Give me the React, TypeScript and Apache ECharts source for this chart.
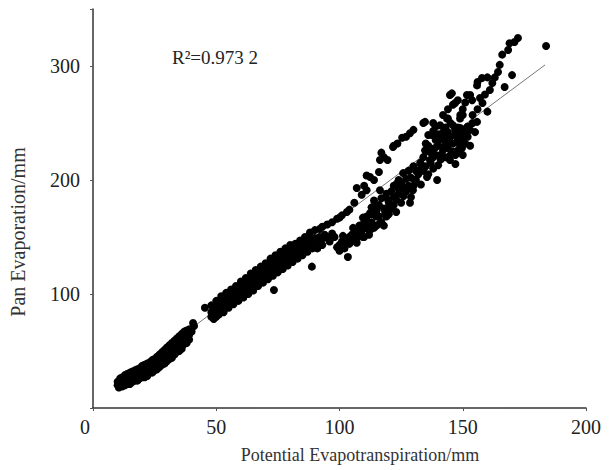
import React, { useEffect, useRef } from "react";
import * as echarts from "echarts";

// x: Potential Evapotranspiration (mm), y: Pan Evaporation (mm)
const lowerBand: number[][] = [
  [10, 20], [10, 23], [10.5, 22], [11, 21], [11, 24], [11.5, 23], [11.5, 20], [12, 22], [12, 25], [12.5, 24],
  [13, 23], [13, 26], [13.5, 25], [13.5, 22], [14, 24], [14, 27], [14.5, 26], [15, 25], [15, 28], [15, 23],
  [15.5, 27], [16, 26], [16, 29], [16.5, 28], [16.5, 25], [17, 27], [17, 30], [17.5, 29], [18, 28], [18, 31],
  [18, 26], [18.5, 30], [19, 29], [19, 32], [19.5, 31], [19.5, 28], [20, 30], [20, 33], [20, 36], [20.5, 32],
  [21, 31], [21, 34], [21, 29], [21.5, 33], [22, 33], [22, 36], [22, 28], [22.5, 35], [22.5, 31], [23, 34],
  [23, 37], [23.5, 36], [24, 35], [24, 39], [24, 33], [24.5, 38], [25, 37], [25, 40], [25.5, 39], [25.5, 35],
  [26, 38], [26, 42], [26, 44], [26.5, 41], [27, 40], [27, 44], [27, 38], [27.5, 43], [28, 42], [28, 46],
  [28.5, 45], [28.5, 41], [29, 44], [29, 48], [29, 40], [29.5, 47], [30, 46], [30, 50], [30, 43], [30.5, 49],
  [31, 48], [31, 52], [31.5, 51], [31.5, 47], [32, 50], [32, 54], [32, 45], [32.5, 53], [33, 52], [33, 56],
  [33, 50], [33.5, 55], [34, 54], [34, 58], [34.5, 57], [34.5, 52], [35, 56], [35, 60], [35, 51], [35.5, 59],
  [36, 58], [36, 62], [36, 55], [37, 60], [37, 63], [38, 61], [38, 65], [39, 64], [40.6, 74.6], [45.4, 88],
  [10.5, 18], [12, 19], [13, 20], [14, 21], [15, 21], [16, 23], [17, 24], [18, 24], [19, 26], [20, 27],
  [21, 27], [22, 30], [23, 31], [24, 31], [25, 33], [26, 34], [27, 36], [28, 38], [29, 39], [30, 41],
  [31, 43], [32, 44], [33, 47], [34, 49], [35, 50], [36, 52], [37, 56], [38, 57], [11, 26], [12, 27],
  [13, 29], [14, 30], [15, 31], [16, 32], [17, 33], [18, 34], [19, 35], [20, 37], [21, 38], [22, 39],
  [23, 40], [24, 42], [25, 43], [26, 45], [27, 47], [28, 49], [29, 51], [30, 53], [31, 55], [32, 57],
  [33, 59], [34, 61], [35, 63], [36, 65], [37, 67], [38, 68], [39, 69], [40, 67], [41, 72], [39, 60],
];

const middleBand: number[][] = [
  [48, 84], [48, 80], [49, 86], [49, 82], [50, 88], [50, 84], [50, 91], [51, 87], [51, 90], [52, 91],
  [52, 86], [52, 94], [53, 92], [53, 89], [54, 95], [54, 90], [54, 97], [55, 94], [55, 98], [56, 97],
  [56, 93], [56, 100], [57, 99], [57, 95], [58, 101], [58, 97], [58, 104], [59, 102], [59, 99], [60, 104],
  [60, 100], [60, 107], [61, 106], [61, 102], [62, 108], [62, 104], [62, 111], [63, 109], [63, 105], [64, 111],
  [64, 107], [64, 114], [65, 112], [65, 108], [66, 114], [66, 110], [66, 117], [67, 116], [67, 112], [68, 117],
  [68, 113], [68, 120], [69, 119], [69, 115], [70, 120], [70, 117], [70, 123], [71, 122], [71, 118], [72, 124],
  [72, 120], [72, 127], [73, 125], [73, 121], [73.4, 103.5], [74, 127], [74, 123], [74, 130], [75, 128], [75, 124],
  [76, 130], [76, 126], [76, 133], [77, 131], [77, 128], [78, 133], [78, 129], [78, 136], [79, 134], [79, 131],
  [80, 136], [80, 132], [80, 139], [81, 137], [81, 134], [82, 139], [82, 135], [83, 140], [83, 137], [84, 142],
  [84, 138], [85, 141], [85, 144], [86, 143], [86, 146], [87, 145], [87, 141], [88, 147], [88, 143], [88.8, 124],
  [89, 146], [90, 149], [91, 145], [92, 150], [93, 148], [94, 152], [95, 150], [96, 146], [97, 153], [98, 150],
  [49, 78], [50, 80], [51, 82], [53, 84], [55, 88], [57, 91], [59, 94], [61, 97], [63, 100], [65, 103],
  [67, 107], [69, 110], [71, 113], [73, 116], [75, 119], [77, 122], [79, 125], [81, 128], [83, 131], [85, 134],
  [87, 137], [89, 140], [91, 140], [93, 143], [48, 90], [50, 94], [52, 98], [54, 101], [56, 104], [58, 107],
  [60, 111], [62, 114], [64, 118], [66, 121], [68, 124], [70, 127], [72, 131], [74, 134], [76, 137], [78, 140],
  [80, 143], [82, 144], [84, 147], [86, 150], [88, 151],
];

const upperBranch: number[][] = [
  [88, 154], [90, 156], [93, 159], [95, 161], [97, 163], [99, 166], [101, 169], [103, 172], [104, 174], [106, 180],
  [107, 193], [109, 187], [111, 191], [111, 204], [112.4, 202.6], [114, 200], [116, 207], [116.4, 217.5], [117, 224], [119.5, 217.5],
  [121.7, 229], [123.5, 232], [125.4, 237], [128.6, 241], [130, 244], [134, 250], [136, 239.5], [132.7, 215],
  [92, 157], [100, 167], [110, 195], [118, 220], [122, 230], [127, 238], [138, 250],
];

const lowerBranch: number[][] = [
  [99, 141], [100, 143], [101.4, 151], [102, 145], [103.4, 132.5], [104, 150], [105.5, 158], [106, 153], [107.5, 150], [109.5, 150],
  [109.5, 167], [110, 158], [111.6, 162], [112.4, 156], [112.4, 171], [113, 176], [114.4, 176], [115, 168], [116.4, 162], [116.4, 191],
  [118.5, 171], [119.7, 182.5], [120.5, 176], [122, 185], [123.3, 197], [124, 188], [125.8, 206], [126, 193], [128.6, 180], [129.8, 191],
  [130.6, 200], [131, 208], [132.7, 209], [135.5, 202.6], [139.6, 200], [140, 213], [136.7, 217.5], [134.7, 226], [137.5, 239.5], [140.8, 248],
  [142.8, 230.7], [144.8, 217.5], [146.9, 243.9], [148.9, 254], [144, 254], [148, 226], [150, 235], [138.7, 228], [149.7, 228], [147.7, 233],
  [142.8, 239.5], [141, 222], [145, 238], [139, 235], [143, 246], [146, 225], [151, 240], [147, 214], [135, 232], [138, 220],
  [152, 247], [144.8, 233],
  [100, 138], [101, 146], [102, 140], [103, 148], [104, 144], [105, 152], [106, 147], [107, 156], [107, 145], [108, 152],
  [108, 160], [109, 155], [110, 163], [110, 150], [111, 158], [111, 168], [112, 152], [113, 163], [113, 170], [114, 158],
  [114, 182], [115, 173], [115, 160], [116, 168], [116, 178], [117, 163], [117, 184], [118, 175], [118, 160], [119, 168],
  [119, 188], [120, 180], [120, 170], [121, 190], [121, 175], [122, 178], [122, 195], [123, 183], [123, 172], [124, 192],
  [124, 200], [125, 180], [125, 197], [126, 186], [127, 201], [127, 190], [128, 195], [128, 208], [129, 185], [129, 202],
  [130, 195], [130, 212], [131, 200], [132, 205], [133, 196], [133, 214], [134, 220], [134, 208], [135, 212], [135, 225],
  [136, 205], [136, 230], [137, 215], [137, 224], [138, 210], [138, 243], [139, 222], [139, 247], [140, 230], [140, 240],
  [141, 218], [141, 236], [142, 226], [143, 220], [143, 236], [144, 228], [144, 242], [145, 222], [145, 250], [146, 232],
  [146, 248], [147, 240], [147, 222], [148, 246], [148, 236], [149, 230], [149, 240], [150, 244], [150, 222], [151, 232],
  [152, 238], [153, 244], [154, 250], [153, 230], [155, 242],
];

const topCluster: number[][] = [
  [172.4, 324.6], [171, 321], [168.4, 314], [165, 301], [164.3, 294.7], [170, 292], [167, 281.6], [163, 290], [157.8, 289.5], [155.8, 283],
  [161, 279], [159, 275], [145.6, 276], [153, 274.6], [158, 267.5], [146, 266], [149, 257], [143.6, 254], [154, 257], [160, 260],
  [149, 245.6], [155.8, 251], [144.8, 274.6], [146.9, 267.5], [151.7, 274.6], [153.8, 270], [156, 286], [150, 257], [134.7, 251], [142, 242],
  [142, 257], [183.8, 317.5],
  [150, 262], [151, 268], [156, 262], [157, 272], [160, 290], [162, 285], [166, 310], [169, 320], [148, 270], [144, 262],
];

const fitLine: number[][] = [[12, 25], [183.4, 301]];

const xTicks = { min: 0, max: 200, interval: 50 };
const yTicks = { min: 0, max: 350, interval: 100 };

const r2Label = "R²=0.973 2";
const xName = "Potential Evapotranspiration/mm";
const yName = "Pan Evaporation/mm";

const FONT = "'Liberation Serif', 'DejaVu Serif', serif";

export default function App() {
  const ref = useRef<HTMLDivElement>(null);
  useEffect(() => {
    if (!ref.current) return;
    const chart = echarts.init(ref.current, undefined, { renderer: "svg" });
    const dot = { symbol: "circle", symbolSize: 8, itemStyle: { color: "#000", opacity: 1 } };
    chart.setOption({
      animation: false,
      backgroundColor: "#fff",
      grid: { left: 93, right: 27, top: 9, bottom: 62 },
      xAxis: {
        type: "value",
        min: xTicks.min,
        max: xTicks.max,
        interval: xTicks.interval,
        splitLine: { show: false },
        axisLine: { onZero: false, lineStyle: { color: "#333", width: 1.5 } },
        axisTick: { length: 3, lineStyle: { color: "#555" } },
        axisLabel: {
          fontFamily: FONT,
          fontSize: 20,
          color: "#222",
          margin: 9,
          formatter: (v: number) => (v === 0 ? "{z|0}" : String(v)),
          rich: { z: { fontFamily: FONT, fontSize: 20, color: "#222", padding: [0, 16, 0, 0] } },
        },
      },
      yAxis: {
        type: "value",
        min: yTicks.min,
        max: yTicks.max,
        interval: yTicks.interval,
        splitLine: { show: false },
        axisLine: { onZero: false, lineStyle: { color: "#333", width: 1.5 } },
        axisTick: { length: 3, lineStyle: { color: "#555" } },
        axisLabel: {
          fontFamily: FONT,
          fontSize: 20,
          color: "#222",
          margin: 13,
          formatter: (v: number) => (v === 0 || v === 350 ? "" : String(v)),
        },
      },
      graphic: [
        {
          type: "text",
          x: 18,
          y: 232,
          rotation: Math.PI / 2,
          style: { text: yName, fontFamily: FONT, fontSize: 20, fill: "#333", align: "center", verticalAlign: "middle" },
        },
        {
          type: "text",
          x: 360,
          y: 455,
          style: { text: xName, fontFamily: FONT, fontSize: 18, fill: "#333", align: "center", verticalAlign: "middle" },
        },
        {
          type: "text",
          x: 172,
          y: 57,
          style: { text: r2Label, fontFamily: FONT, fontSize: 19, fill: "#222", align: "left", verticalAlign: "middle" },
        },
      ],
      series: [
        {
          type: "line",
          data: fitLine,
          symbol: "none",
          lineStyle: { color: "#777", width: 1 },
          z: 1,
        },
        { type: "scatter", data: lowerBand, ...dot, z: 2 },
        { type: "scatter", data: middleBand, ...dot, z: 2 },
        { type: "scatter", data: upperBranch, ...dot, z: 2 },
        { type: "scatter", data: lowerBranch, ...dot, z: 2 },
        { type: "scatter", data: topCluster, ...dot, z: 2 },
      ],
    });
    return () => chart.dispose();
  }, []);
  return <div ref={ref} style={{ width: 613, height: 470, position: "absolute", left: 0, top: 0 }} />;
}
